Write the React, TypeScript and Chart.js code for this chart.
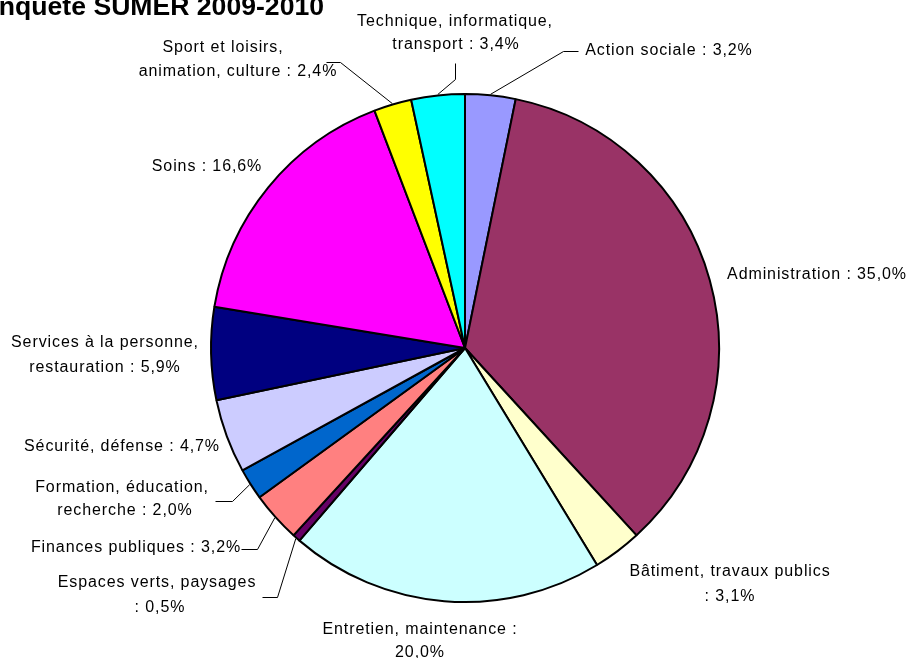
import React, { useEffect, useRef } from 'react';
import { Chart, ArcElement, PieController } from 'chart.js';

Chart.register(ArcElement, PieController);

const titleText = 'Enquête SUMER 2009-2010';

const categories = [
  'Action sociale',
  'Administration',
  'Bâtiment, travaux publics',
  'Entretien, maintenance',
  'Espaces verts, paysages',
  'Finances publiques',
  'Formation, éducation, recherche',
  'Sécurité, défense',
  'Services à la personne, restauration',
  'Soins',
  'Sport et loisirs, animation, culture',
  'Technique, informatique, transport',
];

const shares = [3.2, 35.0, 3.1, 20.0, 0.5, 3.2, 2.0, 4.7, 5.9, 16.6, 2.4, 3.4];

const sliceColors = [
  '#9999FF', '#993366', '#FFFFCC', '#CCFFFF', '#660066', '#FF8080',
  '#0066CC', '#CCCCFF', '#000080', '#FF00FF', '#FFFF00', '#00FFFF',
];

// Layout of the labels: number of words on the first line (0 = single line),
// centre x of each line, y of each line, and leader elbow/end points.
type LabelLayout = {
  split: number;
  xs: number[];
  ys: number[];
  leader?: [number, number][];
};

const labelLayout: LabelLayout[] = [
  { split: 0, xs: [669], ys: [51], leader: [[578, 51], [563, 51]] },
  { split: 0, xs: [817], ys: [275] },
  { split: 3, xs: [730, 730], ys: [572, 597] },
  { split: 3, xs: [420, 420], ys: [630, 653] },
  { split: 3, xs: [157, 160], ys: [583, 608], leader: [[262, 597], [277, 597]] },
  { split: 0, xs: [136], ys: [548], leader: [[241, 549], [257, 549]] },
  { split: 2, xs: [122, 125], ys: [488, 511], leader: [[215, 501], [232, 501]] },
  { split: 0, xs: [122], ys: [447] },
  { split: 4, xs: [105, 105], ys: [343, 368] },
  { split: 0, xs: [207], ys: [167] },
  { split: 3, xs: [223, 238], ys: [48, 72], leader: [[326, 62], [340, 62]] },
  { split: 2, xs: [455, 456], ys: [22, 45], leader: [[455, 63], [455, 79]] },
];

const fmt = (v: number) => v.toFixed(1).replace('.', ',') + '%';

const labelPlugin = {
  id: 'excelLabels',
  afterDraw(chart: any) {
    const ctx: CanvasRenderingContext2D = chart.ctx;
    const meta = chart.getDatasetMeta(0);
    ctx.save();
    // title
    ctx.fillStyle = '#000';
    ctx.font = 'bold 26.6px "Liberation Sans", Arial, sans-serif';
    ctx.textAlign = 'right';
    ctx.textBaseline = 'alphabetic';
    ctx.fillText(titleText, 324, 14.5);

    ctx.font = '16px "Liberation Sans", Arial, sans-serif';
    (ctx as any).letterSpacing = '0.9px';
    ctx.textAlign = 'center';
    ctx.textBaseline = 'middle';
    ctx.strokeStyle = '#000';
    ctx.lineWidth = 1;

    meta.data.forEach((arc: any, i: number) => {
      const lay = labelLayout[i];
      const full = `${categories[i]} : ${fmt(shares[i])}`;
      let lines: string[];
      if (lay.split > 0) {
        const words = full.split(' ');
        lines = [words.slice(0, lay.split).join(' '), words.slice(lay.split).join(' ')];
      } else {
        lines = [full];
      }
      lines.forEach((t, k) => ctx.fillText(t, lay.xs[k], lay.ys[k]));

      if (lay.leader) {
        const p = arc.getProps(['x', 'y', 'startAngle', 'endAngle', 'outerRadius'], true);
        const mid = (p.startAngle + p.endAngle) / 2;
        const ex = p.x + Math.cos(mid) * (p.outerRadius + 1);
        const ey = p.y + Math.sin(mid) * (p.outerRadius + 1);
        ctx.beginPath();
        ctx.moveTo(lay.leader[0][0] + 0.5, lay.leader[0][1] + 0.5);
        ctx.lineTo(lay.leader[1][0] + 0.5, lay.leader[1][1] + 0.5);
        ctx.lineTo(ex, ey);
        ctx.stroke();
      }
    });
    ctx.restore();
  },
};

export default function App() {
  const ref = useRef<HTMLCanvasElement | null>(null);
  useEffect(() => {
    if (!ref.current) return;
    const chart = new Chart(ref.current, {
      type: 'pie',
      data: {
        labels: categories,
        datasets: [
          {
            data: shares,
            backgroundColor: sliceColors,
            borderColor: '#000000',
            borderWidth: 2,
          },
        ],
      },
      options: {
        responsive: false,
        animation: false,
        radius: 254,
        layout: { padding: { left: 20, top: 38, right: 0, bottom: 0 } },
        plugins: {
          legend: { display: false },
          tooltip: { enabled: false },
        },
      } as any,
      plugins: [labelPlugin],
    });
    return () => chart.destroy();
  }, []);
  return (
    <div style={{ position: 'fixed', left: 0, top: 0, width: 910, height: 658, background: '#fff' }}>
      <canvas ref={ref} width={910} height={658} style={{ width: 910, height: 658, display: 'block' }} />
    </div>
  );
}
